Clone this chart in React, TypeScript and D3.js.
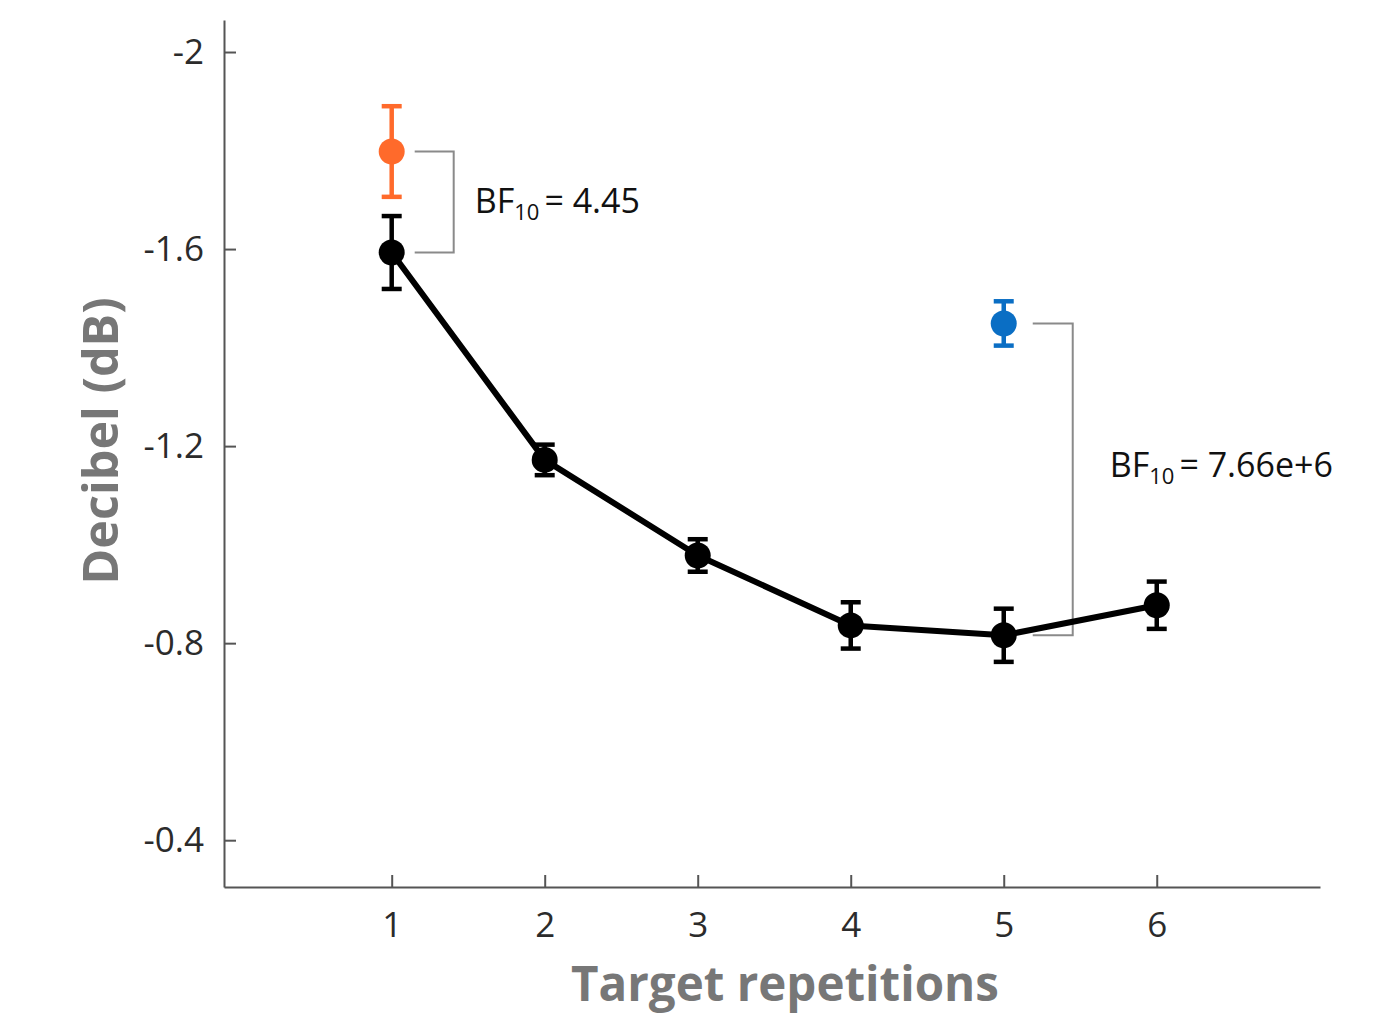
import React, { useRef, useEffect } from "react";
import * as d3 from "d3";

// repetitions on the x axis
const repetitions = [1, 2, 3, 4, 5, 6];
// mean decibel per repetition (black line)
const meanDb = [-1.593, -1.172, -0.978, -0.836, -0.816, -0.877];
const errDb = [0.074, 0.031, 0.033, 0.047, 0.054, 0.048];

// the two highlighted conditions
const highlights = [
  { rep: 1, value: -1.798, err: 0.092, color: "#ff6a2b" },
  { rep: 5, value: -1.449, err: 0.045, color: "#0a6ec4" },
];

// bracket comparisons: highlight vs black point of the same repetition
const comparisons = [
  { rep: 1, from: -1.798, to: -1.593, label: "4.45" },
  { rep: 5, from: -1.449, to: -0.816, label: "7.66e+6" },
];

const yTicks = [-2, -1.6, -1.2, -0.8, -0.4];

const W = 1374;
const H = 1022;
const FONT = "'Open Sans', Lato, sans-serif";

const App = () => {
  const svgRef = useRef<SVGSVGElement>(null);

  useEffect(() => {
    const svg = d3.select(svgRef.current);
    svg.selectAll("*").remove();

    const x = d3.scaleLinear().domain([-0.096, 7.067]).range([224, 1320]);
    const y = d3.scaleLinear().domain([-2.065, -0.305]).range([20, 887]);

    const axisColor = "#555";

    // y axis
    const yAxis = svg
      .append("g")
      .attr("transform", `translate(${x(-0.096)},0)`)
      .call(
        d3
          .axisLeft(y)
          .tickValues(yTicks)
          .tickSizeInner(-12)
          .tickSizeOuter(0)
          .tickPadding(20)
          .tickFormat((d) => `${d}`)
      );

    // x axis
    const xAxis = svg
      .append("g")
      .attr("transform", `translate(0,${y(-0.305)})`)
      .call(
        d3
          .axisBottom(x)
          .tickValues(repetitions)
          .tickSizeInner(-12)
          .tickSizeOuter(0)
          .tickPadding(25)
          .tickFormat(d3.format("d"))
      );

    [yAxis, xAxis].forEach((ax) => {
      ax.select(".domain").attr("stroke", axisColor).attr("stroke-width", 2);
      ax.selectAll(".tick line").attr("stroke", axisColor).attr("stroke-width", 2);
      ax.selectAll(".tick text")
        .attr("fill", "#2b2b2b")
        .style("font-family", FONT)
        .style("font-size", "35px");
    });
    xAxis.selectAll(".tick text").attr("dy", "0.71em");

    // axis titles
    svg
      .append("text")
      .attr("x", 785)
      .attr("y", 1001)
      .attr("text-anchor", "middle")
      .style("font-family", FONT)
      .style("font-size", "47.5px")
      .style("font-weight", "bold")
      .attr("fill", "#777")
      .text("Target repetitions");

    svg
      .append("text")
      .attr("transform", `translate(118,441) rotate(-90)`)
      .attr("text-anchor", "middle")
      .style("font-family", FONT)
      .style("font-size", "48.5px")
      .style("font-weight", "bold")
      .attr("fill", "#777")
      .text("Decibel (dB)");

    // brackets (start / end offsets from the point, in px)
    const bracketOffsets = [
      [23, 62],
      [29, 69],
    ];
    comparisons.forEach((c, i) => {
      const x0 = x(c.rep) + bracketOffsets[i][0];
      const x1 = x(c.rep) + bracketOffsets[i][1];
      svg
        .append("path")
        .attr("d", `M${x0},${y(c.from)}H${x1}V${y(c.to)}H${x0}`)
        .attr("fill", "none")
        .attr("stroke", "#8a8a8a")
        .attr("stroke-width", 2);
    });

    // labels
    const labelPos = [
      { x: x(1) + 83, y: 213 },
      { x: x(5) + 106, y: 477 },
    ];
    comparisons.forEach((c, i) => {
      const t = svg
        .append("text")
        .attr("x", labelPos[i].x)
        .attr("y", labelPos[i].y)
        .style("font-family", FONT)
        .style("font-size", "34px")
        .attr("fill", "#111");
      t.append("tspan").text("BF");
      t.append("tspan").attr("dy", 7).style("font-size", "22px").text("10");
      t.append("tspan").attr("dy", -7).attr("dx", 5).text(`= ${c.label}`);
    });

    // error bars helper
    const drawErr = (cx, v, e, color) => {
      const g = svg.append("g").attr("stroke", color).attr("stroke-width", 4.5);
      g.append("line")
        .attr("x1", cx)
        .attr("x2", cx)
        .attr("y1", y(v - e))
        .attr("y2", y(v + e));
      [v - e, v + e].forEach((yy) =>
        g
          .append("line")
          .attr("x1", cx - 10)
          .attr("x2", cx + 10)
          .attr("y1", y(yy))
          .attr("y2", y(yy))
      );
    };

    // black line
    const pts = repetitions.map((r, i) => [x(r), y(meanDb[i])] as [number, number]);
    svg
      .append("path")
      .attr("d", d3.line()(pts))
      .attr("fill", "none")
      .attr("stroke", "#000")
      .attr("stroke-width", 6)
      .attr("stroke-linejoin", "round");

    repetitions.forEach((r, i) => {
      drawErr(x(r), meanDb[i], errDb[i], "#000");
      svg
        .append("circle")
        .attr("cx", x(r))
        .attr("cy", y(meanDb[i]))
        .attr("r", 13)
        .attr("fill", "#000");
    });

    highlights.forEach((h) => {
      drawErr(x(h.rep), h.value, h.err, h.color);
      svg
        .append("circle")
        .attr("cx", x(h.rep))
        .attr("cy", y(h.value))
        .attr("r", 13)
        .attr("fill", h.color);
    });
  }, []);

  return (
    <svg
      ref={svgRef}
      width={W}
      height={H}
      style={{ position: "absolute", left: 0, top: 0, background: "#fff" }}
    ></svg>
  );
};

export default App;
